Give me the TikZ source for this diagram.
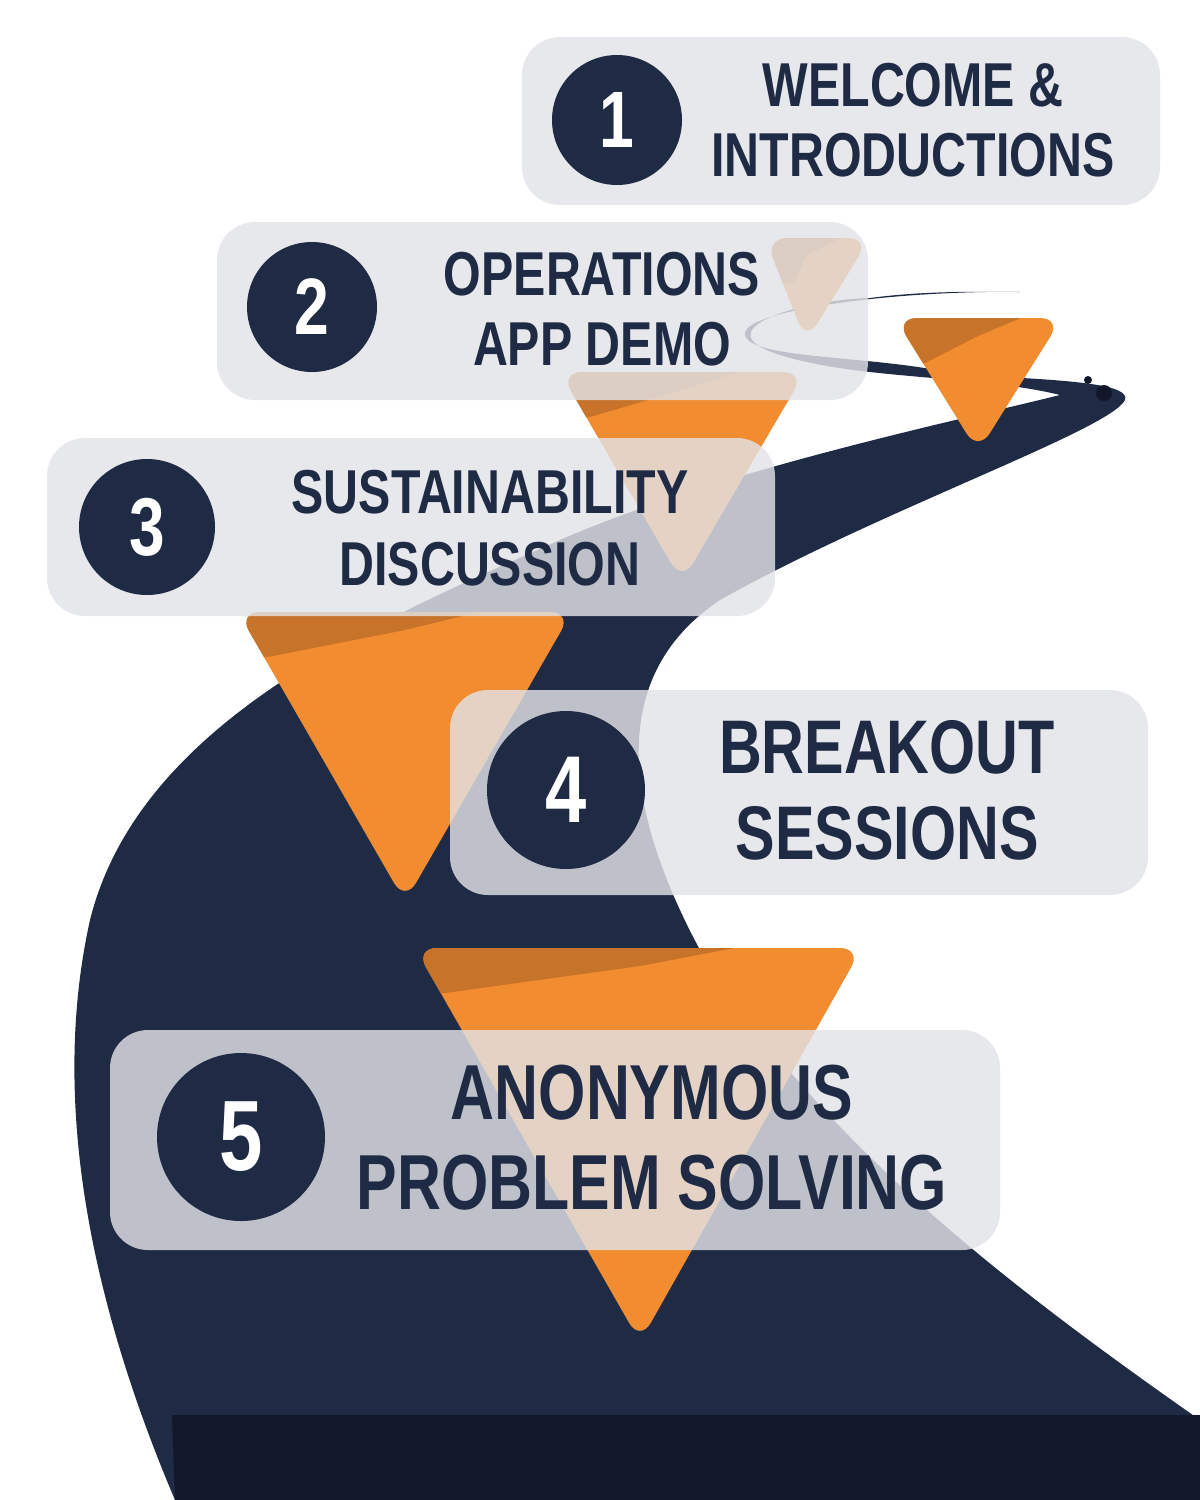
\documentclass[tikz,border=0pt]{standalone}
\usepackage{fontspec}
\newfontfamily\hd[FakeStretch=0.78]{Liberation Sans}
\definecolor{navy}{HTML}{1F2A44}
\definecolor{navyd}{HTML}{121829}
\definecolor{org}{HTML}{F28C30}
\definecolor{orgd}{HTML}{C8732A}
\definecolor{boxc}{HTML}{E2E3E7}
\tikzset{
 stepbox/.style={fill=boxc,fill opacity=0.82,rounded corners=38pt},
 num/.style={circle,fill=navy,text=white,font=\hd\bfseries},
 lbl/.style={text=navy,font=\hd\bfseries,align=center,inner sep=0pt}
}
\newcommand{\tri}[5]{% L R top tipx tipy
 \begin{scope}
 \path[clip,rounded corners=22pt] (#1,#3)--(#2,#3)--(#4,#5)--cycle;
 \fill[org] (#1-30,#3-30) rectangle (#2+30,#5+30);
 \fill[orgd] (#1-30,#3-30)--(#2+30,#3-30)--(#4,#3+18)--(#1+30,#3+45)--(#1-30,#3+45)--cycle;
 \end{scope}}
\begin{document}
\begin{tikzpicture}[x=1pt,y=-1pt]
\useasboundingbox (0,0) rectangle (1200,1500);
% road
\fill[navy] (1020,292) .. controls (900,290) and (740,310) .. (745,335)
 .. controls (750,360) and (880,355) .. (960,375)
 .. controls (1080,380) and (1130,385) .. (1125,400)
 .. controls (1110,430) and (880,510) .. (720,600)
 .. controls (600,680) and (630,820) .. (700,950)
 .. controls (820,1140) and (1000,1280) .. (1200,1420)
 -- (1200,1500) -- (175,1500)
 .. controls (90,1300) and (50,1100) .. (90,920)
 .. controls (140,720) and (380,620) .. (560,540)
 .. controls (720,470) and (960,420) .. (1060,395)
 .. controls (980,375) and (860,380) .. (780,355)
 .. controls (700,330) and (800,300) .. (870,298)
 .. controls (930,290) and (990,292) .. (1020,292) -- cycle;
\fill[navyd] (172,1415) -- (1200,1415) -- (1200,1500) -- (175,1500) -- cycle;
\fill[navyd] (1104,393) circle (8);
\fill[navyd] (1088,380) circle (4);
% triangles
\tri{895}{1062}{318}{978}{452}
\tri{765}{870}{238}{806}{342}
\tri{560}{805}{372}{682}{582}
\tri{238}{572}{612}{405}{902}
\tri{415}{862}{948}{640}{1342}
% boxes
\fill[stepbox] (522,37) rectangle (1160,205);
\fill[stepbox] (217,222) rectangle (868,400);
\fill[stepbox] (47,438) rectangle (775,616);
\fill[stepbox] (450,690) rectangle (1148,895);
\fill[stepbox] (110,1030) rectangle (1000,1250);
% numbers
\node[num,minimum size=130pt,font=\hd\bfseries\fontsize{80}{80}\selectfont] (n1) at (617,120) {1};
\node[num,minimum size=130pt,font=\hd\bfseries\fontsize{80}{80}\selectfont] (n2) at (312,307) {2};
\node[num,minimum size=136pt,font=\hd\bfseries\fontsize{82}{82}\selectfont] (n3) at (147,527) {3};
\node[num,minimum size=158pt,font=\hd\bfseries\fontsize{95}{95}\selectfont] (n4) at (566,790) {4};
\node[num,minimum size=168pt,font=\hd\bfseries\fontsize{100}{100}\selectfont] (n5) at (241,1137) {5};
% labels
\node[lbl,font=\hd\bfseries\fontsize{62}{70}\selectfont] (t1) at (913,120) {WELCOME \&\\INTRODUCTIONS};
\node[lbl,font=\hd\bfseries\fontsize{62}{70}\selectfont] (t2) at (602,309) {OPERATIONS\\APP DEMO};
\node[lbl,font=\hd\bfseries\fontsize{62}{72}\selectfont] (t3) at (490,528) {SUSTAINABILITY\\DISCUSSION};
\node[lbl,font=\hd\bfseries\fontsize{76}{86}\selectfont] (t4) at (887,790) {BREAKOUT\\SESSIONS};
\node[lbl,font=\hd\bfseries\fontsize{78}{90}\selectfont] (t5) at (652,1138) {ANONYMOUS\\PROBLEM SOLVING};
\end{tikzpicture}
\end{document}
